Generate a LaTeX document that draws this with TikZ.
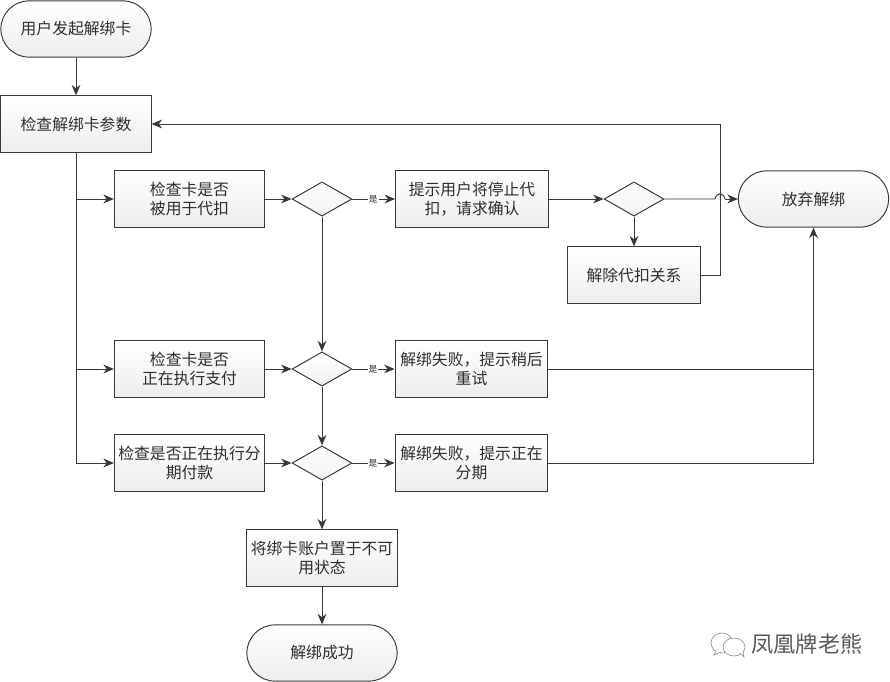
\documentclass[tikz,border=0pt]{standalone}
\usepackage{fontspec}
\setmainfont{Noto Sans CJK SC}
\usepackage{tikz}
\usetikzlibrary{arrows.meta,shapes.geometric}
\definecolor{lineclr}{HTML}{383838}
\definecolor{textclr}{HTML}{2E2E2E}
\tikzset{
    flowbox/.style={draw=lineclr,line width=0.55pt,top color=white,bottom color=black!7,minimum width=85.5pt,minimum height=32pt,inner sep=1pt,align=center,text=textclr,font=\fontsize{9}{11}\selectfont},
    widebox/.style={flowbox,minimum width=87pt},
    endbox/.style={flowbox,rounded corners=16pt},
    choice/.style={diamond,draw=lineclr,line width=0.55pt,top color=white,bottom color=black!5,minimum width=34pt,minimum height=19.5pt,aspect=1.75,inner sep=0pt},
    flow/.style={draw=lineclr,line width=0.55pt,-{Stealth[length=6pt,width=5pt]}},
    plain/.style={draw=lineclr,line width=0.55pt},
    yes/.style={fill=white,inner sep=0.6pt,text=textclr,font=\fontsize{5}{6}\selectfont},
    bubble/.style={draw=black!45,line width=0.35pt,fill=white}
}
\begin{document}
\begin{tikzpicture}[x=0.02cm,y=-0.02cm]
    \useasboundingbox (0,0) rectangle (890,682);
    \node[endbox] (start) at (76,29) {用户发起解绑卡};
    \node[flowbox] (params) at (76,124) {检查解绑卡参数};
    \node[flowbox] (withhold) at (189.5,199) {检查卡是否\\被用于代扣};
    \node[choice] (qwithhold) at (322,199) {};
    \node[widebox] (prompt) at (472,199) {提示用户将停止代\\扣，请求确认};
    \node[choice] (qconfirm) at (634,199) {};
    \node[flowbox,minimum width=75.5pt] (release) at (634,275) {解除代扣关系};
    \node[endbox] (giveup) at (813.5,199) {放弃解绑};
    \node[flowbox] (paying) at (189.5,369) {检查卡是否\\正在执行支付};
    \node[choice] (qpaying) at (322,369) {};
    \node[widebox] (failpay) at (471.5,369) {解绑失败，提示稍后\\重试};
    \node[flowbox] (install) at (189.5,463) {检查是否正在执行分\\期付款};
    \node[choice] (qinstall) at (322,463) {};
    \node[widebox] (failinst) at (471.5,463) {解绑失败，提示正在\\分期};
    \node[flowbox] (disable) at (322,558) {将绑卡账户置于不可\\用状态};
    \node[endbox] (done) at (322,653) {解绑成功};

    \coordinate (busA) at (76,199);
    \coordinate (busB) at (76,369);
    \coordinate (busC) at (76,463);
    \coordinate (turn) at (720,275);
    \coordinate (back) at (720,124);
    \coordinate (jumpL) at (715,199);
    \coordinate (jumpR) at (725,199);
    \coordinate (mergeA) at (813.5,369);
    \coordinate (mergeB) at (813.5,463);

    \draw[flow] (start) -- (params);
    \draw[plain] (params) -- (busC);
    \foreach \from/\to in {busA/withhold,busB/paying,busC/install,withhold/qwithhold,paying/qpaying,install/qinstall,qconfirm/release,qwithhold/qpaying,qpaying/qinstall,qinstall/disable,disable/done,prompt/qconfirm}
        \draw[flow] (\from) -- (\to);
    \foreach \from/\to/\name in {qwithhold/prompt/a,qpaying/failpay/b,qinstall/failinst/c}
        \draw[flow] (\from) -- node[yes,pos=0.49] (yes\name) {是} (\to);
    \draw[plain] (release) -- (turn) -- (back);
    \draw[flow] (back) -- (params);
    \draw[plain] (qconfirm) -- (jumpL) .. controls (717,192) and (723,192) .. (jumpR);
    \draw[flow] (jumpR) -- (giveup);
    \draw[plain] (failpay) -- (mergeA);
    \draw[plain] (failinst) -- (mergeB);
    \draw[flow] (mergeB) -- (giveup);

    \draw[bubble] (722,643) ellipse (11 and 10);
    \draw[bubble] (716,650) -- (714,655) -- (721,652);
    \draw[bubble] (734,647) ellipse (11 and 9);
    \draw[bubble] (740,653) -- (744,657) -- (743,651);
    \node[text=black!65,font=\fontsize{12.6}{14}\selectfont,inner sep=0pt] (mark) at (807,644) {凤凰牌老熊};
\end{tikzpicture}
\end{document}
